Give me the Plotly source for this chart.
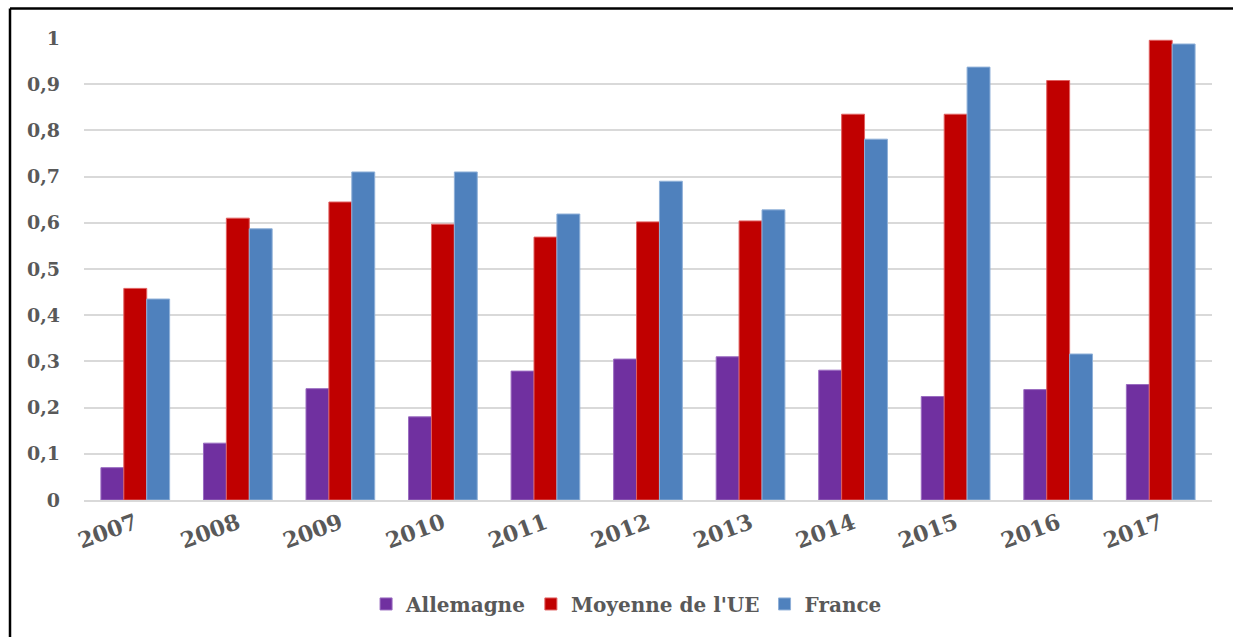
import plotly.graph_objects as go

# Données
annees = ['2007', '2008', '2009', '2010', '2011', '2012', '2013', '2014', '2015', '2016', '2017']
allemagne = [0.07, 0.123, 0.241, 0.18, 0.279, 0.305, 0.31, 0.281, 0.224, 0.239, 0.25]
moyenne_ue = [0.458, 0.61, 0.645, 0.597, 0.569, 0.602, 0.604, 0.835, 0.835, 0.908, 0.995]
france = [0.435, 0.587, 0.71, 0.71, 0.619, 0.69, 0.628, 0.781, 0.937, 0.316, 0.987]

gris = '#595959'

fig = go.Figure()
fig.add_trace(go.Bar(x=annees, y=allemagne, name='<b>Allemagne</b>',
                     marker=dict(color='#7030A0', line=dict(color='#9a6cc0', width=1))))
fig.add_trace(go.Bar(x=annees, y=moyenne_ue, name="<b>Moyenne de l'UE</b>",
                     marker=dict(color='#C00000', line=dict(color='#e06060', width=1))))
fig.add_trace(go.Bar(x=annees, y=france, name='<b>France</b>',
                     marker=dict(color='#4F81BD', line=dict(color='#8fb0d8', width=1))))

fig.update_layout(
    width=1233, height=637,
    margin=dict(l=84, r=21, t=38, b=137),
    paper_bgcolor='white', plot_bgcolor='white',
    barmode='group', bargap=0.33, bargroupgap=0,
    separators=', ',
    font=dict(family='DejaVu Serif', size=19, color=gris),
    legend=dict(orientation='h', x=0.481, xanchor='center', y=-0.225, yanchor='middle',
                font=dict(family='DejaVu Serif', size=20, color=gris),
                traceorder='normal'),
    showlegend=True,
)

fig.update_xaxes(tickangle=-20, showline=True, linecolor='#d9d9d9', linewidth=2,
                 ticks='', automargin=False,
                 tickfont=dict(family='DejaVu Serif', size=22, color=gris, weight='bold'))
fig.update_yaxes(range=[0, 1.0], dtick=0.1, showgrid=True, gridcolor='#d9d9d9', gridwidth=2,
                 zeroline=False, ticks='', ticklabelstandoff=23, automargin=False,
                 tickfont=dict(family='DejaVu Serif', size=19, color=gris, weight='bold'))

# cadre noir (seuls les bords gauche et haut sont visibles)
fig.add_shape(type='line', xref='paper', yref='paper',
              x0=-0.0656, x1=-0.0656, y0=-0.5, y1=1.0639,
              line=dict(color='black', width=2.5), layer='above')
fig.add_shape(type='line', xref='paper', yref='paper',
              x0=-0.0656, x1=1.5, y0=1.0639, y1=1.0639,
              line=dict(color='black', width=2.5), layer='above')

# pas de marge autour de la page, pas de barre d'outils
fig.write_html('out.html', config={'displayModeBar': False},
               post_script="document.body.style.margin='0';")
